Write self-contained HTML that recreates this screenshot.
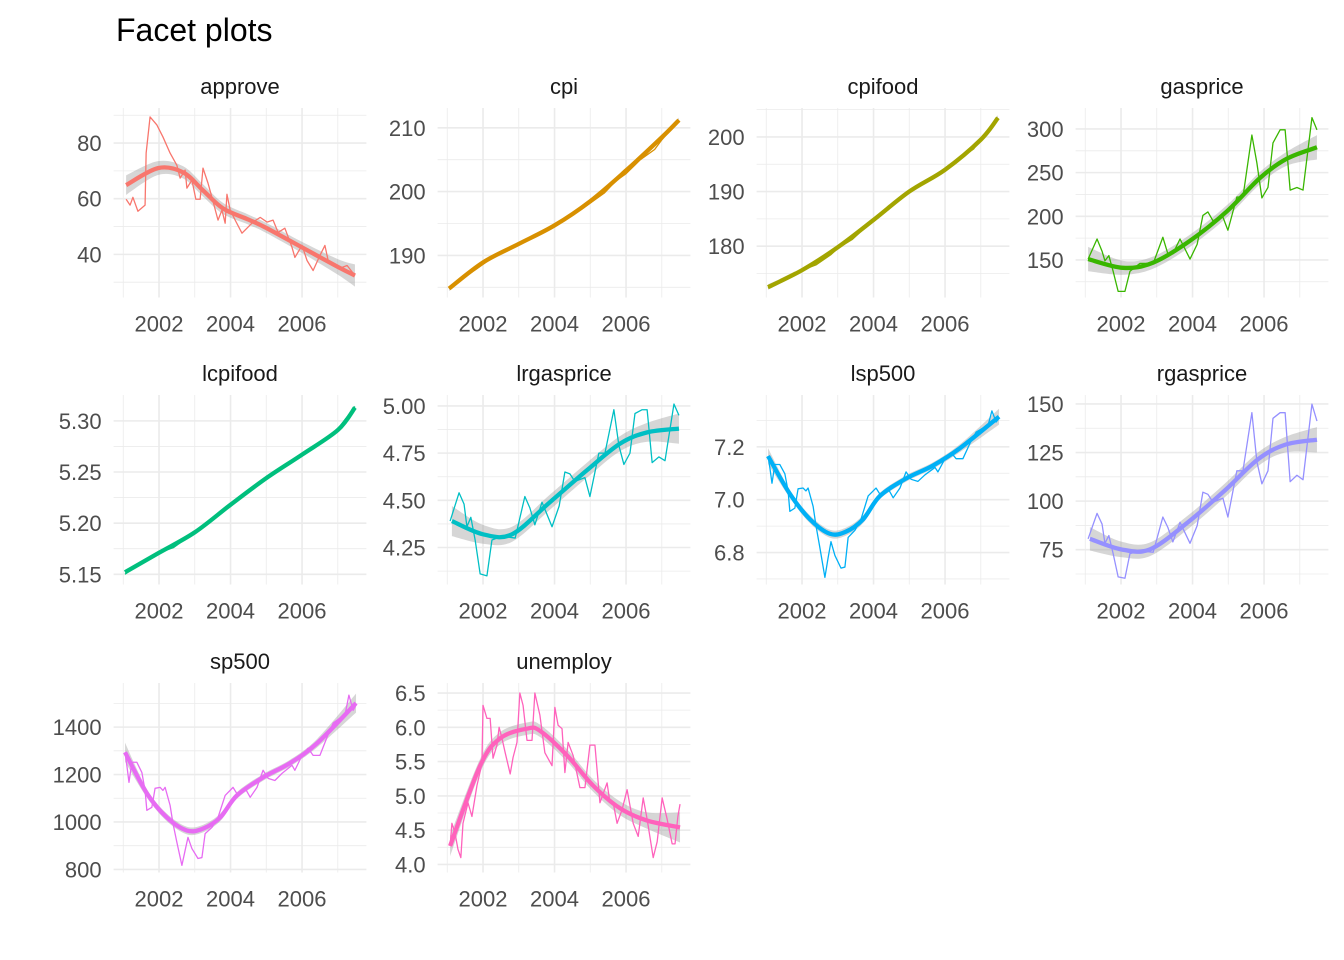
<!DOCTYPE html>
<html><head><meta charset="utf-8"><style>
html,body{margin:0;padding:0;background:#fff;}
svg{display:block;font-family:"Liberation Sans",Arial,sans-serif;}
</style></head><body>
<svg id="chart" width="1344" height="960" viewBox="0 0 1344 960">
<rect width="1344" height="960" fill="#fff"/>
<text x="116" y="41" font-size="32" fill="#000">Facet plots</text>
</svg>
<script>
const xTickYears = [2002, 2004, 2006];
const xTickLabels = ["2002", "2004", "2006"];
const xMinorYears = [2001, 2003, 2005, 2007];

const approveYears = [2001.08,2001.19,2001.27,2001.41,2001.61,2001.64,2001.75,2001.94,2002.11,2002.31,2002.50,2002.59,2002.73,2002.78,2002.92,2003.03,2003.15,2003.23,2003.37,2003.48,2003.65,2003.76,2003.85,2003.90,2003.99,2004.13,2004.32,2004.46,2004.63,2004.83,2005.02,2005.19,2005.33,2005.52,2005.72,2005.80,2006.00,2006.14,2006.31,2006.50,2006.64,2006.73,2006.87,2007.06,2007.26,2007.48];
const approveValues = [59.8,57.7,60.5,55.5,57.7,76.4,89.4,86.5,82.2,76.4,72,67.4,70.3,63.8,66.7,59.8,59.8,71,65.6,60.5,52.3,55.9,51.2,61.6,55.9,52.3,47.6,49.4,51.6,53.3,51.6,52.3,47.9,49.4,42.5,38.9,43.2,37.8,34.2,39.6,43.2,37.8,36.8,35,36,32.4];
const approveSmoothYears = [2001.08,2001.97,2002.67,2003.23,2003.79,2004.5,2005.0,2006.0,2007.0,2007.48];
const approveSmooth = [64.9,71,69.5,63,56.5,52.5,49.5,42.5,35.5,32.4];
const approveSe = [3.5,2.5,2.2,2.2,2,1.8,1.8,2,2.8,4];

const cpiYears = [2001.05,2001.4,2001.8,2002.0,2002.3,2002.7,2003.0,2003.4,2003.8,2004.0,2004.4,2004.8,2005.0,2005.4,2005.7,2006.0,2006.4,2006.8,2007.0,2007.48];
const cpiValues = [184.8,186.3,187.8,188.6,189.8,190.9,191.6,193.0,193.9,194.5,196.0,197.4,198.2,199.8,201.6,202.8,205.0,206.6,208.1,211.2];
const cpiSmoothYears = [2001.05,2002,2003,2004,2005,2006,2007,2007.48];
const cpiSmooth = [184.8,188.9,191.8,194.7,198.5,203.3,208.5,211.2];
const cpiSe = [0.4,0.3,0.3,0.3,0.3,0.3,0.3,0.4];

const cpifoodYears = [2001.05,2001.4,2001.8,2002.0,2002.4,2002.8,2003.0,2003.4,2003.8,2004.0,2004.4,2004.8,2005.0,2005.4,2005.8,2006.0,2006.4,2006.8,2007.0,2007.48];
const cpifoodValues = [172.3,173.9,175.2,175.6,176.6,178.4,179.6,181.2,183.6,184.8,187.2,189.2,190.0,191.6,193.2,194.0,196.0,197.8,199.7,203.5];
const cpifoodSmoothYears = [2001.05,2002,2003,2004,2005,2006,2007,2007.48];
const cpifoodSmooth = [172.5,175.6,179.8,184.8,190,194,199.5,203.5];
const cpifoodSe = [0.5,0.3,0.3,0.3,0.3,0.3,0.3,0.5];

const gasYears = [2001.08,2001.33,2001.47,2001.55,2001.66,2001.78,2001.92,2002.11,2002.25,2002.53,2002.90,2003.17,2003.31,2003.45,2003.65,2003.93,2004.13,2004.29,2004.43,2004.57,2004.85,2004.99,2005.24,2005.41,2005.66,2005.80,2005.94,2006.11,2006.25,2006.45,2006.59,2006.73,2006.92,2007.09,2007.34,2007.48];
const gasValues = [151,174,160,149,155,137,114,114,137,146,146,176,157,157,174,151,168,201,205,195,199,184,222,222,293,261,221,233,284,299,299,230,233,230,313,299];
const gasSmoothYears = [2001.08,2002.06,2002.90,2003.93,2004.97,2005.89,2006.64,2007.48];
const gasSmooth = [151,141,147,172,206,244,266,279];
const gasSe = [14,8,7,7,7,7,8,14];

const lcpifoodYears = [2001.05,2001.4,2001.8,2002.0,2002.4,2002.8,2003.0,2003.4,2003.8,2004.0,2004.4,2004.8,2005.0,2005.4,2005.8,2006.0,2006.4,2006.8,2007.0,2007.48];
const lcpifoodValues = [5.150,5.160,5.168,5.171,5.176,5.186,5.191,5.201,5.213,5.218,5.230,5.240,5.244,5.253,5.262,5.267,5.277,5.285,5.292,5.314];
const lcpifoodSmoothYears = [2001.05,2002,2003,2004,2005,2006,2007,2007.48];
const lcpifoodSmooth = [5.152,5.171,5.191,5.218,5.244,5.267,5.291,5.313];
const lcpifoodSe = [0.002,0.0015,0.0015,0.0015,0.0015,0.0015,0.0015,0.002];

const lrgasValues = [4.39,4.54,4.48,4.36,4.41,4.29,4.11,4.10,4.29,4.31,4.30,4.52,4.46,4.37,4.49,4.36,4.47,4.65,4.64,4.60,4.62,4.52,4.75,4.75,4.98,4.79,4.69,4.75,4.96,4.98,4.98,4.70,4.73,4.71,5.01,4.95];
const lrgasSmoothYears = [2001.13,2002.0,2002.81,2003.87,2004.91,2005.83,2006.59,2007.48];
const lrgasSmooth = [4.39,4.32,4.32,4.49,4.66,4.80,4.86,4.88];
const lrgasSe = [0.08,0.05,0.04,0.04,0.04,0.04,0.05,0.08];

const spYears = [2001.05,2001.10,2001.16,2001.24,2001.38,2001.52,2001.61,2001.66,2001.80,2001.89,2002.03,2002.11,2002.17,2002.31,2002.39,2002.50,2002.64,2002.73,2002.81,2002.92,2003.09,2003.20,2003.29,2003.48,2003.65,2003.85,2004.07,2004.21,2004.41,2004.55,2004.74,2004.91,2005.05,2005.24,2005.44,2005.72,2005.80,2006.00,2006.17,2006.31,2006.50,2006.70,2006.87,2007.06,2007.20,2007.31,2007.43,2007.51];
const lsp500Values = [7.165,7.122,7.062,7.133,7.133,7.098,7.033,6.956,6.968,7.041,7.044,7.033,7.044,6.975,6.902,6.818,6.706,6.780,6.841,6.789,6.741,6.745,6.857,6.884,6.926,7.014,7.044,7.014,7.041,7.007,7.044,7.105,7.077,7.069,7.094,7.122,7.105,7.155,7.178,7.155,7.155,7.214,7.256,7.271,7.279,7.336,7.294,7.308];
const spSmoothYears = [2001.05,2001.66,2002.22,2002.78,2003.23,2003.71,2004.18,2004.91,2005.66,2006.42,2007.51];
const lsp500Smooth = [7.165,7.022,6.926,6.871,6.879,6.926,7.014,7.080,7.129,7.195,7.314];
const lsp500Se = [0.03,0.015,0.015,0.015,0.015,0.015,0.012,0.012,0.012,0.015,0.03];

const rgasValues = [80.6,93.7,88.2,78.3,82.3,73,61,60.3,73,74.4,73.7,91.8,86.5,79,89.1,78.3,87.4,104.6,103.5,99.5,101.5,91.8,115.6,115.6,145.5,120.3,108.9,115.6,142.6,145.5,145.5,110,113.3,111,149.9,141.2];
const rgasSmooth = [80.6,75.2,75.2,89.1,105.6,121.5,129,131.6];
const rgasSe = [6,4,3.5,3.5,3.5,3.5,4,6.5];

const sp500Values = [1294,1239,1167,1252,1252,1209,1133,1049,1062,1142,1146,1133,1146,1070,994,914,817,880,935,888,846,850,951,977,1019,1112,1146,1112,1142,1104,1146,1218,1184,1175,1205,1239,1218,1281,1311,1281,1281,1358,1417,1438,1450,1535,1471,1493];
const sp500Smooth = [1294,1121,1019,964,972,1019,1112,1188,1248,1332,1501];
const sp500Se = [40,18,16,16,16,16,14,14,14,18,40];

const unempYears = [2001.08,2001.13,2001.22,2001.30,2001.38,2001.44,2001.58,2001.69,2001.83,2001.97,2002.00,2002.11,2002.20,2002.28,2002.39,2002.45,2002.53,2002.62,2002.76,2002.84,2002.95,2003.03,2003.12,2003.23,2003.37,2003.45,2003.59,2003.73,2003.93,2004.01,2004.10,2004.21,2004.29,2004.38,2004.52,2004.63,2004.71,2004.85,2004.99,2005.13,2005.27,2005.47,2005.55,2005.64,2005.75,2005.89,2006.03,2006.20,2006.34,2006.48,2006.59,2006.76,2006.87,2007.01,2007.15,2007.29,2007.37,2007.45,2007.51];
const unempValues = [4.27,4.6,4.45,4.22,4.1,4.6,4.9,4.7,5.15,5.47,6.32,6.13,6.13,5.55,5.74,6.0,5.84,5.63,5.32,5.56,5.78,6.5,6.32,5.81,5.81,6.5,6.18,5.63,5.44,6.29,6.03,5.98,5.34,5.78,5.59,5.32,5.12,5.12,5.74,5.74,4.9,5.19,4.9,4.9,4.6,4.8,5.09,4.6,4.41,4.97,4.66,4.1,4.33,4.97,4.66,4.3,4.3,4.7,4.88];
const unempSmoothYears = [2001.08,2001.92,2002.48,2003.23,2003.59,2004.35,2005.08,2005.83,2006.59,2007.51];
const unempSmooth = [4.27,5.44,5.84,5.98,5.95,5.59,5.15,4.82,4.64,4.54];
const unempSe = [0.15,0.1,0.09,0.09,0.09,0.09,0.09,0.1,0.12,0.22];

const panelNames = ["approve","cpi","cpifood","gasprice","lcpifood","lrgasprice","lsp500","rgasprice","sp500","unemploy"];
const panelTicks = [[40,60,80],[190,200,210],[180,190,200],[150,200,250,300],[5.15,5.20,5.25,5.30],[4.25,4.50,4.75,5.00],[6.8,7.0,7.2],[75,100,125,150],[800,1000,1200,1400],[4.0,4.5,5.0,5.5,6.0,6.5]];
const panelTickLabels = [["40","60","80"],["190","200","210"],["180","190","200"],["150","200","250","300"],["5.15","5.20","5.25","5.30"],["4.25","4.50","4.75","5.00"],["6.8","7.0","7.2"],["75","100","125","150"],["800","1000","1200","1400"],["4.0","4.5","5.0","5.5","6.0","6.5"]];
const panelMinor = [[30,50,70,90],[185,195,205],[175,185,195,205],[125,175,225,275,325],[5.175,5.225,5.275],[4.125,4.375,4.625,4.875],[6.7,6.9,7.1,7.3],[62.5,87.5,112.5,137.5],[900,1100,1300,1500],[4.25,4.75,5.25,5.75,6.25]];
const panelDomains = [[24.5,92.6],[183.4,213.1],[170.6,205.3],[107,324],[5.140,5.3253],[4.054,5.058],[6.679,7.396],[57.1,154.6],[787,1586],[3.883,6.646]];

const series = [
  {x:approveYears,y:approveValues,sx:approveSmoothYears,s:approveSmooth,se:approveSe,c:"#F8766D"},
  {x:cpiYears,y:cpiValues,sx:cpiSmoothYears,s:cpiSmooth,se:cpiSe,c:"#D89000"},
  {x:cpifoodYears,y:cpifoodValues,sx:cpifoodSmoothYears,s:cpifoodSmooth,se:cpifoodSe,c:"#A3A500"},
  {x:gasYears,y:gasValues,sx:gasSmoothYears,s:gasSmooth,se:gasSe,c:"#39B600"},
  {x:lcpifoodYears,y:lcpifoodValues,sx:lcpifoodSmoothYears,s:lcpifoodSmooth,se:lcpifoodSe,c:"#00BF7D"},
  {x:gasYears,y:lrgasValues,sx:lrgasSmoothYears,s:lrgasSmooth,se:lrgasSe,c:"#00BFC4"},
  {x:spYears,y:lsp500Values,sx:spSmoothYears,s:lsp500Smooth,se:lsp500Se,c:"#00B0F6"},
  {x:gasYears,y:rgasValues,sx:lrgasSmoothYears,s:rgasSmooth,se:rgasSe,c:"#9590FF"},
  {x:spYears,y:sp500Values,sx:spSmoothYears,s:sp500Smooth,se:sp500Se,c:"#E76BF3"},
  {x:unempYears,y:unempValues,sx:unempSmoothYears,s:unempSmooth,se:unempSe,c:"#FF62BC"}
];

const NS="http://www.w3.org/2000/svg";
const svg=document.getElementById("chart");
const colLeft=[113.6,437.6,756.6,1075.6], panelW=252.8;
const rowTop=[108,395,683], panelH=189.5;
const xDom=[2000.73,2007.80];
function mk(tag,attrs,parent){const e=document.createElementNS(NS,tag);for(const k in attrs)e.setAttribute(k,attrs[k]);(parent||svg).appendChild(e);return e;}
function catmull(pts){
  if(pts.length<2)return "";
  let d="M"+pts[0][0].toFixed(2)+","+pts[0][1].toFixed(2);
  for(let i=0;i<pts.length-1;i++){
    const p0=pts[i-1]||pts[i],p1=pts[i],p2=pts[i+1],p3=pts[i+2]||p2;
    const c1=[p1[0]+(p2[0]-p0[0])/6,p1[1]+(p2[1]-p0[1])/6];
    const c2=[p2[0]-(p3[0]-p1[0])/6,p2[1]-(p3[1]-p1[1])/6];
    d+=" C"+c1[0].toFixed(2)+","+c1[1].toFixed(2)+" "+c2[0].toFixed(2)+","+c2[1].toFixed(2)+" "+p2[0].toFixed(2)+","+p2[1].toFixed(2);
  }
  return d;
}
panelNames.forEach((name,i)=>{
  const col=i%4,row=Math.floor(i/4);
  const L=colLeft[col],T=rowTop[row],B=T+panelH;
  const dom=panelDomains[i];
  const xs=v=>L+(v-xDom[0])/(xDom[1]-xDom[0])*panelW;
  const ys=v=>B-(v-dom[0])/(dom[1]-dom[0])*panelH;
  const g=mk("g",{});
  
  
  const clipId="clip"+i;
  const cp=mk("clipPath",{id:clipId},g);
  mk("rect",{x:L,y:T,width:panelW,height:panelH},cp);
  panelMinor[i].forEach(v=>{if(v<dom[0]||v>dom[1])return;const l=mk("line",{x1:L,x2:L+panelW,y1:ys(v),y2:ys(v),stroke:"#ebebeb","stroke-width":0.8},g);});
  xMinorYears.forEach(v=>{const l=mk("line",{x1:xs(v),x2:xs(v),y1:T,y2:B,stroke:"#ebebeb","stroke-width":0.8},g);});
  panelTicks[i].forEach((v,k)=>{
    const l=mk("line",{x1:L,x2:L+panelW,y1:ys(v),y2:ys(v),stroke:"#ebebeb","stroke-width":1.6},g);
    
    const t=mk("text",{x:L-12,y:ys(v)+8,"text-anchor":"end","font-size":22,fill:"#4d4d4d"},g);
    t.textContent=panelTickLabels[i][k];
    
  });
  xTickYears.forEach((v,k)=>{
    const l=mk("line",{x1:xs(v),x2:xs(v),y1:T,y2:B,stroke:"#ebebeb","stroke-width":1.6},g);
    
    const t=mk("text",{x:xs(v),y:B+34,"text-anchor":"middle","font-size":22,fill:"#4d4d4d"},g);
    t.textContent=xTickLabels[k];
    
  });
  const st=mk("text",{x:L+panelW/2,y:T-14,"text-anchor":"middle","font-size":22,fill:"#1a1a1a"},g);
  st.textContent=name;
  
  const s=series[i];
  const dg=mk("g",{"clip-path":"url(#"+clipId+")"},g);
  const up=s.sx.map((x,k)=>[xs(x),ys(s.s[k]+s.se[k])]);
  const lo=s.sx.map((x,k)=>[xs(x),ys(s.s[k]-s.se[k])]).reverse();
  const rd=catmull(up)+" L"+lo[0][0].toFixed(2)+","+lo[0][1].toFixed(2)+catmull(lo).replace(/^M[^ ]*/,"")+" Z";
  const rib=mk("path",{d:rd,fill:"#999999","fill-opacity":0.4,stroke:"none"},dg);
  
  const raw=mk("path",{d:"M"+s.x.map((x,k)=>xs(x).toFixed(2)+","+ys(s.y[k]).toFixed(2)).join(" L"),fill:"none",stroke:s.c,"stroke-width":1.3,"stroke-linejoin":"round"},dg);
  
  const sm=mk("path",{d:catmull(s.sx.map((x,k)=>[xs(x),ys(s.s[k])])),fill:"none",stroke:s.c,"stroke-width":4.3,"stroke-linecap":"butt"},dg);
  
});
</script>
</body></html>
